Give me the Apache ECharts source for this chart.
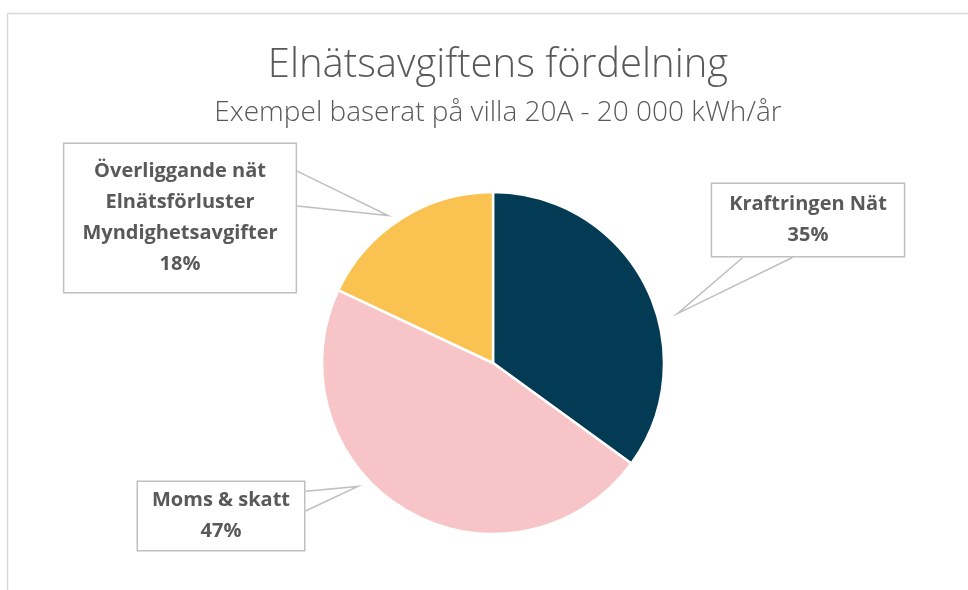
<!DOCTYPE html>
<html>
  <head>
    <meta charset="UTF-8" />
    <title>Elnätsavgiftens fördelning</title>
    <style>
      html, body { margin: 0; padding: 0; background: #fff; }
      #main { width: 968px; height: 590px; }
    </style>
  </head>
  <body>
    <div id="main"></div>
    <script src="https://cdn.jsdelivr.net/npm/echarts@6/dist/echarts.min.js"></script>
    <script>
      // data
      const names = ['Kraftringen Nät', 'Moms & skatt', 'Överliggande nät\nElnätsförluster\nMyndighetsavgifter']
      const values = [35, 47, 18]
      const colors = ['#033B55', '#F7C4C7', '#FAC250']

      // callout boxes: box center, pointer base on which edge, pointer tip as angle offset / gap from pie
      const callouts = [
        { cx: 808, cy: 220, side: 'bottom', from: 0.165, to: 0.42, turn: 12, gap: 20, padding: [5, 17] },
        { cx: 221, cy: 516, side: 'right', from: 0.15, to: 0.43, turn: 17, gap: 12, padding: [3, 14] },
        { cx: 180, cy: 218, side: 'right', from: 0.19, to: 0.42, turn: -3, gap: 10, padding: [12, 18] },
      ]

      const pieCenter = [493, 363]
      const pieRadius = 171
      const textColor = '#595959'
      const font = '"Open Sans", sans-serif'

      const chart = echarts.init(document.getElementById('main'))

      const option = {
        animation: false,
        title: {
          text: 'Elnätsavgiftens fördelning',
          subtext: 'Exempel baserat på villa 20A - 20 000 kWh/år',
          left: 493,
          textAlign: 'center',
          top: 41,
          itemGap: 13,
          textStyle: { fontFamily: font, fontWeight: 300, fontSize: 40, color: textColor },
          subtextStyle: { fontFamily: font, fontWeight: 300, fontSize: 28, color: textColor },
        },
        graphic: [
          {
            type: 'rect',
            shape: { x: 7.5, y: 13.5, width: 1200, height: 800 },
            style: { fill: 'none', stroke: '#d9d9d9', lineWidth: 1.5 },
            silent: true,
          },
        ],
        series: [
          {
            type: 'pie',
            center: pieCenter,
            radius: pieRadius,
            startAngle: 90,
            clockwise: true,
            itemStyle: { borderColor: '#fff', borderWidth: 2.5 },
            label: {
              show: true,
              position: 'outside',
              formatter: '{b}\n{c}%',
              fontFamily: font,
              fontWeight: 'bold',
              fontSize: 20,
              lineHeight: 31,
              color: textColor,
              align: 'center',
              backgroundColor: '#fff',
              borderColor: '#bfbfbf',
              borderWidth: 1.5,
            },
            labelLine: {
              show: true,
              length: 16,
              length2: 0,
              lineStyle: { color: '#bfbfbf', width: 1.5 },
            },
            data: values.map((v, i) => ({
              name: names[i],
              value: v,
              itemStyle: { color: colors[i] },
              label: { padding: callouts[i].padding },
            })),
          },
        ],
      }

      option.series[0].labelLayout = function (params) {
        const c = callouts[params.dataIndex]
        const w = params.labelRect.width
        const h = params.labelRect.height
        const left = c.cx - w / 2
        const top = c.cy - h / 2
        // pointer tip: take the slice's edge point, turn it a little round the pie
        let tip = [c.cx, c.cy]
        const pts = params.labelLinePoints
        if (pts) {
          const ang = Math.atan2(pts[0][0] - pieCenter[0], -(pts[0][1] - pieCenter[1])) + (c.turn * Math.PI) / 180
          const d = pieRadius + c.gap
          tip = [pieCenter[0] + d * Math.sin(ang), pieCenter[1] - d * Math.cos(ang)]
        }
        let a, b
        if (c.side === 'bottom') {
          a = [left + w * c.from, top + h]
          b = [left + w * c.to, top + h]
        } else {
          a = [left + w, top + h * c.from]
          b = [left + w, top + h * c.to]
        }
        return {
          x: c.cx,
          y: c.cy,
          align: 'center',
          verticalAlign: 'middle',
          labelLinePoints: [a, tip, b],
        }
      }

      chart.setOption(option)
    </script>
  </body>
</html>
